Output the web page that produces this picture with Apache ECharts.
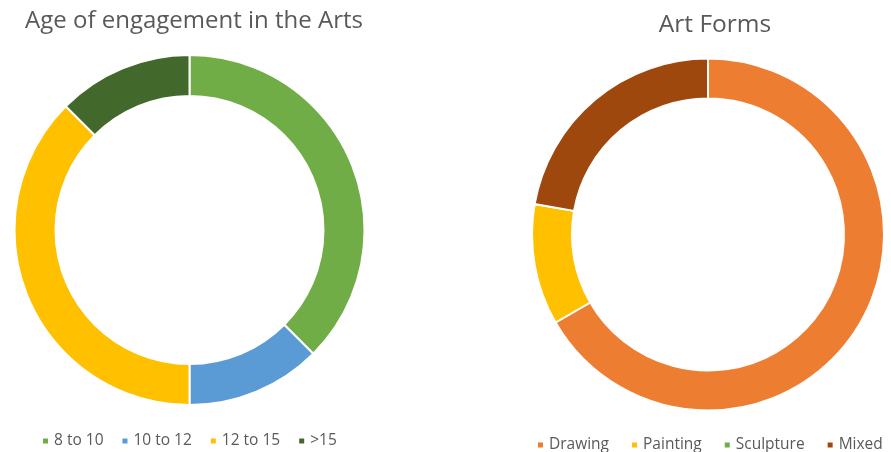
<!DOCTYPE html>
<html>
<head>
<meta charset="utf-8">
<script src="https://cdn.jsdelivr.net/npm/echarts@6/dist/echarts.min.js"></script>
<style>
  html, body { margin: 0; padding: 0; background: #fff; }
  #chart { width: 891px; height: 452px; }
</style>
</head>
<body>
<div id="chart"></div>
<script>
// Age groups at which people began engaging in the arts
const ageGroups = ['8 to 10', '10 to 12', '12 to 15', '>15'];
const ageCounts = [3, 1, 3, 1];
const ageColors = ['#70AD47', '#5B9BD5', '#FFC000', '#43682B'];

// Art forms practised
const artForms = ['Drawing', 'Painting', 'Sculpture', 'Mixed'];
const artCounts = [6, 1, 0, 2];
const artColors = ['#ED7D31', '#FFC000', '#70AD47', '#9E480E'];

const FONT = '"Open Sans", "Noto Sans", sans-serif';
const TEXT = '#595959';

const chart = echarts.init(document.getElementById('chart'), null, { renderer: 'canvas' });

function toData(names, values, colors) {
  return names.map((n, i) => ({ name: n, value: values[i], itemStyle: { color: colors[i] } }));
}

const ringStyle = {
  type: 'pie',
  startAngle: 90,
  clockwise: true,
  label: { show: false },
  labelLine: { show: false },
  emphasis: { disabled: true },
  itemStyle: { borderColor: '#fff', borderWidth: 2 }
};

const legendStyle = {
  orient: 'horizontal',
  width: 420,
  icon: 'rect', itemWidth: 7, itemHeight: 7,
  textStyle: { fontFamily: FONT, fontSize: 15.5, color: TEXT }
};

chart.setOption({
  animation: false,
  title: [
    {
      text: 'Age of engagement in the Arts',
      left: 189, top: 4, textAlign: 'center',
      textStyle: { fontFamily: FONT, fontSize: 24, fontWeight: 'normal', color: TEXT }
    },
    {
      text: 'Art Forms',
      left: 710, top: 8, textAlign: 'center',
      textStyle: { fontFamily: FONT, fontSize: 24.5, fontWeight: 'normal', color: TEXT }
    }
  ],
  legend: [
    Object.assign({ data: ageGroups, left: 36, top: 428, itemGap: 17 }, legendStyle),
    Object.assign({ data: artForms, left: 531, top: 432, itemGap: 21 }, legendStyle)
  ],
  series: [
    Object.assign({
      center: [189.5, 230],
      radius: [134, 175],
      data: toData(ageGroups, ageCounts, ageColors)
    }, ringStyle),
    Object.assign({
      center: [708, 234.5],
      radius: [136, 176],
      data: toData(artForms, artCounts, artColors)
    }, ringStyle)
  ]
});
</script>
</body>
</html>
